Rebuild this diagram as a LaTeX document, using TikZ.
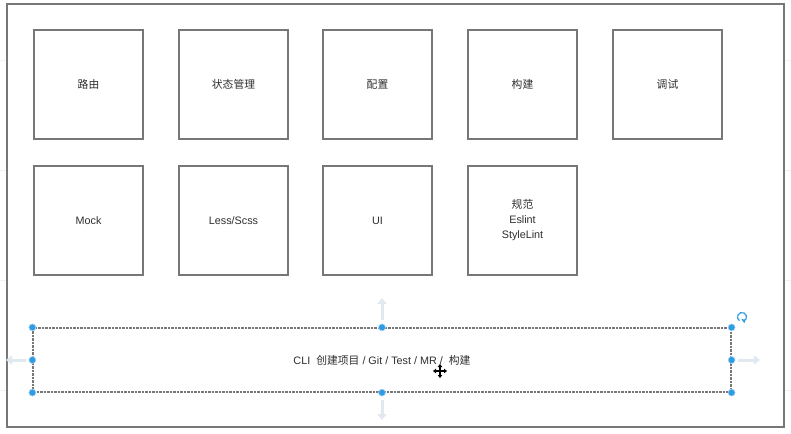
\documentclass[tikz,border=0pt]{standalone}
\usepackage{fontspec}
\setmainfont{Liberation Sans}
\newfontfamily\cjk{Noto Sans CJK SC}
\usetikzlibrary{arrows.meta}
\definecolor{boxgray}{HTML}{777777}
\definecolor{txtgray}{HTML}{2E2E2E}
\definecolor{handleblue}{HTML}{2E9BE3}
\definecolor{ghost}{HTML}{E2E8F0}
\tikzset{
  box/.style={draw=boxgray, line width=1.5pt, minimum width=109pt, minimum height=109pt,
    inner sep=0pt, text=txtgray, font=\fontsize{10.8}{15}\selectfont, align=center},
  selbox/.style={draw=boxgray, line width=1.2pt, dash pattern=on 2.5pt off 1pt,
    minimum width=698pt, minimum height=64pt, inner sep=0pt, text=txtgray,
    font=\fontsize{10.8}{12}\selectfont},
  handle/.style={circle, fill=handleblue, draw=handleblue!40, line width=0.6pt,
    minimum size=7pt, inner sep=0pt},
  ghostarrow/.style={draw=ghost, line width=3pt, -{Triangle[length=6pt,width=9pt]}},
}
\begin{document}
\begin{tikzpicture}[x=1pt,y=-1pt]
\useasboundingbox (0,0) rectangle (791,433);
\fill[white] (0,0) rectangle (791,433);
% faint grid outside the frame
\foreach \yy in {60,170,280,390} {
  \draw[gray!12, line width=0.6pt] (0,\yy) -- (6,\yy);
  \draw[gray!12, line width=0.6pt] (785,\yy) -- (791,\yy);
}
% outer frame
\draw[boxgray, line width=1.5pt] (7,4) rectangle (784,427);
% row 1
\node[box] (routing) at (88.5,84.5) {\cjk 路由};
\node[box] (state) at (233.5,84.5) {\cjk 状态管理};
\node[box] (config) at (377.5,84.5) {\cjk 配置};
\node[box] (build) at (522.5,84.5) {\cjk 构建};
\node[box] (debug) at (667.5,84.5) {\cjk 调试};
% row 2
\node[box] (mock) at (88.5,220.5) {Mock};
\node[box] (less) at (233.5,220.5) {Less/Scss};
\node[box] (ui) at (377.5,220.5) {UI};
\node[box] (lint) at (522.5,220.5) {{\cjk 规范}\\Eslint\\StyleLint};
% ghost arrows
\coordinate (gt0) at (382,320); \coordinate (gt1) at (382,298);
\coordinate (gb0) at (382,400); \coordinate (gb1) at (382,420);
\coordinate (gl0) at (26,360); \coordinate (gl1) at (6,360);
\coordinate (gr0) at (738,360); \coordinate (gr1) at (760,360);
\draw[ghostarrow] (gt0) -- (gt1);
\draw[ghostarrow] (gb0) -- (gb1);
\draw[ghostarrow] (gl0) -- (gl1);
\draw[ghostarrow] (gr0) -- (gr1);
% bottom selected box
\node[selbox] (cli) at (382,360) {CLI\ \ {\cjk 创建项目} / Git / Test / MR /\ \ {\cjk 构建}};
% handles
\foreach \a in {north west,north,north east,west,east,south west,south,south east}
  \node[handle] at (cli.\a) {};
% rotation icon
\coordinate (rot) at (742,317);
\draw[handleblue, line width=1.2pt]
  (rot) ++(-70:4.5pt) arc[start angle=-70, end angle=235, radius=4.5pt];
\fill[handleblue] (rot) ++(-70:4.5pt) ++(-2.2,-2.2) -- ++(4.2,0.6) -- ++(-1.2,3.6) -- cycle;
% move cursor
\coordinate (cur) at (440,371);
\begin{scope}[shift={(cur)}]
  \draw[white, line width=3pt] (-7,0) -- (7,0) (0,-7) -- (0,7);
  \draw[black, line width=1.2pt, {Triangle[length=3pt,width=4.5pt]}-{Triangle[length=3pt,width=4.5pt]}] (-7,0) -- (7,0);
  \draw[black, line width=1.2pt, {Triangle[length=3pt,width=4.5pt]}-{Triangle[length=3pt,width=4.5pt]}] (0,-7) -- (0,7);
\end{scope}
\end{tikzpicture}
\end{document}
